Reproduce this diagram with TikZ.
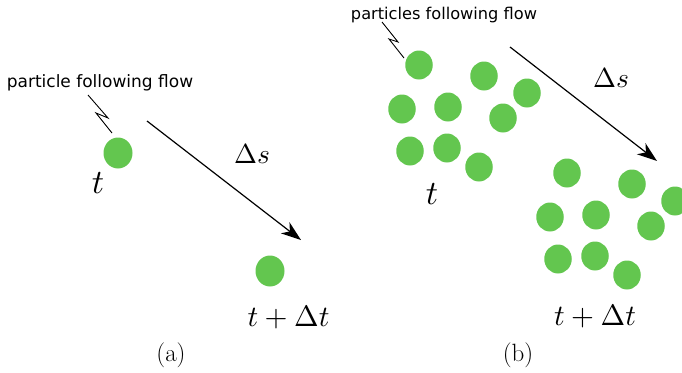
\documentclass[tikz,border=0pt]{standalone}
\usepackage{fontspec}
\newfontfamily\annfont{DejaVu Sans}
\usetikzlibrary{arrows.meta,shapes.geometric}
\definecolor{partgreen}{RGB}{99,198,79}
\newcommand{\bigmath}[2]{\scalebox{#1}{$#2$}}
\tikzset{
  partA/.style={ellipse,fill=partgreen,draw=none,minimum width=29pt,minimum height=31pt,inner sep=0pt},
  partB/.style={ellipse,fill=partgreen,draw=none,minimum width=27.5pt,minimum height=29pt,inner sep=0pt},
  flowarrow/.style={line width=1.2pt,-{Stealth[length=20pt,width=14pt,inset=6pt]}},
  zig/.style={line width=0.9pt},
  anntext/.style={font=\annfont\fontsize{17}{20}\selectfont,inner sep=0pt,anchor=base},
  anntextb/.style={font=\annfont\fontsize{16.2}{19}\selectfont,inner sep=0pt,anchor=base},
  mlabel/.style={inner sep=0pt,anchor=base},
  caplabel/.style={font=\fontsize{25}{29}\selectfont,inner sep=0pt,anchor=base}
}
\begin{document}
\begin{tikzpicture}[x=1pt,y=-1pt]
\useasboundingbox (0,0) rectangle (682,372);
% ---------- panel (a) ----------
\node[anntext] (txta) at (100,87) {particle following flow};
\coordinate (za1) at (88,95);
\coordinate (za2) at (108,118);
\coordinate (za3) at (96,113);
\coordinate (za4) at (112,133);
\draw[zig] (za1) -- (za2) -- (za3) -- (za4);
\node[partA] (pa1) at (118,153) {};
\node[mlabel] (ta) at (98,193) {\bigmath{3.4}{t}};
\coordinate (aas) at (147,121);
\coordinate (aae) at (301,240);
\draw[flowarrow] (aas) -- (aae);
\node[mlabel] (dsa) at (252,163) {\bigmath{2.75}{\Delta s}};
\node[partA] (pa2) at (270,271) {};
\node[mlabel] (tdta) at (288.5,326) {\bigmath{2.95}{t+\Delta t}};
\node[caplabel] (capa) at (171,361) {(a)};
% ---------- panel (b) ----------
\node[anntextb] (txtb) at (444,19) {particles following flow};
\coordinate (zb1) at (382,22);
\coordinate (zb2) at (398,42);
\coordinate (zb3) at (389,39);
\coordinate (zb4) at (404,58);
\draw[zig] (zb1) -- (zb2) -- (zb3) -- (zb4);
\foreach \px/\py [count=\i] in {419/65,484/76,527/93,402/109,448/107,503/118,410/151,447/148,479/167}{
  \node[partB] (pb\i) at (\px,\py) {};
  \node[partB] (qb\i) at (\px+148,\py+108) {};
}
\node[mlabel] (tb) at (432,204) {\bigmath{3.4}{t}};
\coordinate (abs) at (510,47);
\coordinate (abe) at (657,161);
\draw[flowarrow] (abs) -- (abe);
\node[mlabel] (dsb) at (611,87) {\bigmath{2.75}{\Delta s}};
\node[mlabel] (tdtb) at (595,325) {\bigmath{2.95}{t+\Delta t}};
\node[caplabel] (capb) at (518,361) {(b)};
\end{tikzpicture}
\end{document}
